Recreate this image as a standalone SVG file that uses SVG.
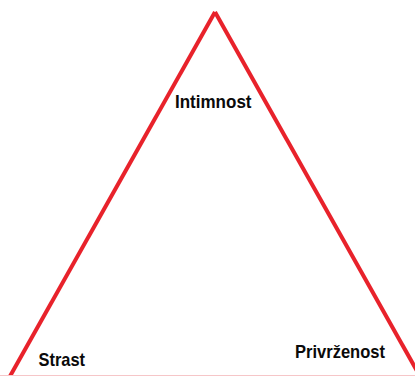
<svg xmlns="http://www.w3.org/2000/svg" width="415" height="376" viewBox="0 0 415 376">
<style>
.edge{stroke:#e8222b;stroke-width:4;fill:none;stroke-linecap:butt}
.lbl{font-family:"Liberation Sans",Arial,sans-serif;font-weight:bold;font-size:18.5px;fill:#0a0a0a}
</style>
<rect width="415" height="376" fill="#ffffff"/>
<g id="connectors">
<line class="edge" x1="215" y1="12" x2="9" y2="378"/>
<line class="edge" x1="215" y1="12" x2="421" y2="378"/>
<line x1="0" y1="375.5" x2="415" y2="375.5" stroke="#f6c6c8" stroke-width="1"/>
</g>
<g id="intimnost"><text class="lbl" x="175" y="107.5" textLength="76.5" lengthAdjust="spacingAndGlyphs">Intimnost</text></g>
<g id="strast"><text class="lbl" x="38.5" y="366" textLength="46.5" lengthAdjust="spacingAndGlyphs">Strast</text></g>
<g id="privrzenost"><text class="lbl" x="295" y="358" textLength="90" lengthAdjust="spacingAndGlyphs">Privrženost</text></g>
</svg>
